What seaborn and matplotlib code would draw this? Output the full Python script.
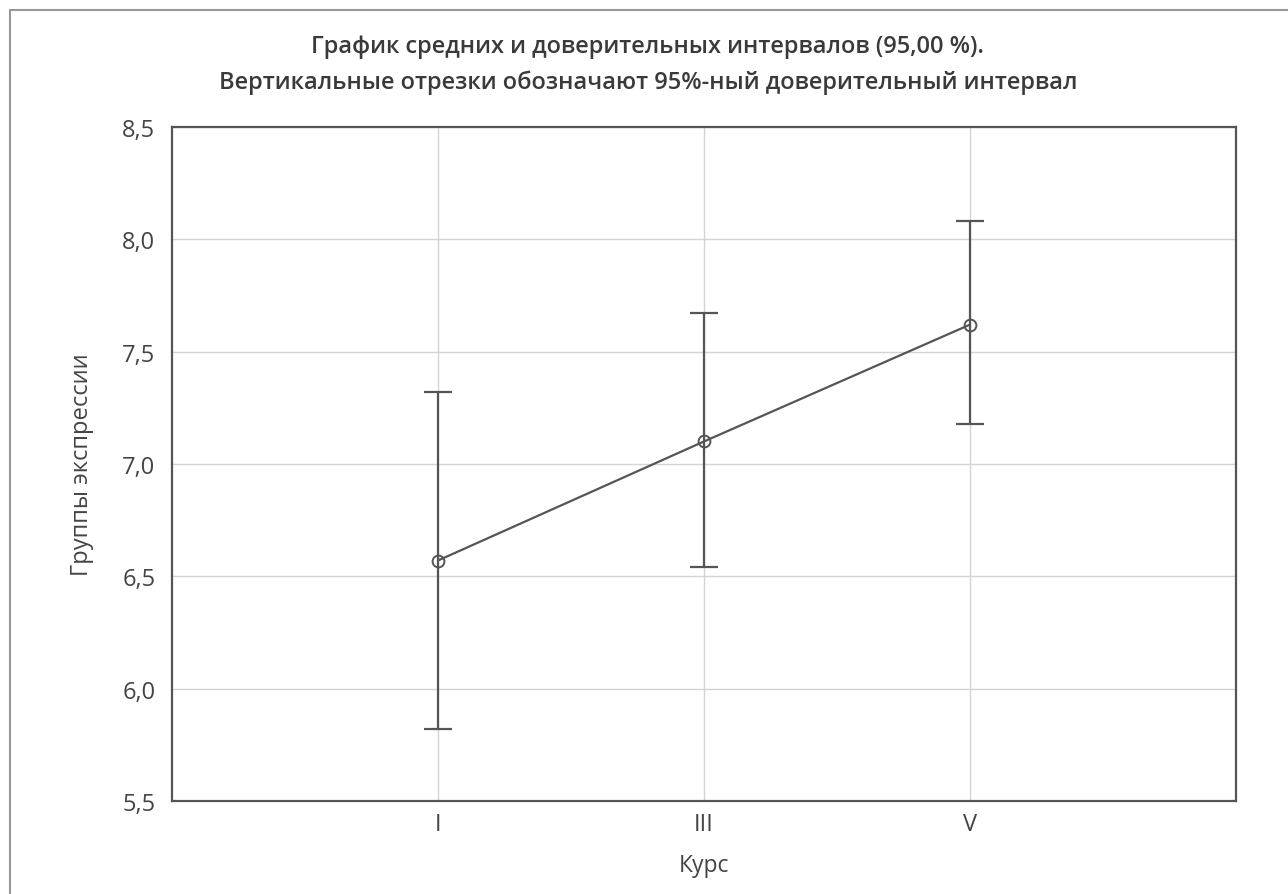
import pandas as pd
import seaborn as sns
import matplotlib.pyplot as plt
from matplotlib.lines import Line2D

# values
courses = ['I', 'III', 'V']
means = [6.57, 7.10, 7.62]
ci_low = [5.82, 6.54, 7.18]
ci_high = [7.32, 7.67, 8.08]
y_ticks = [5.5, 6.0, 6.5, 7.0, 7.5, 8.0, 8.5]

sns.set_theme(style='whitegrid')
plt.rcParams['font.family'] = ['Open Sans', 'DejaVu Sans']

df = pd.DataFrame({'course': courses, 'mean': means, 'low': ci_low, 'high': ci_high})

fig = plt.figure(figsize=(12.88, 8.95), dpi=100)
ax = fig.add_axes([0.1335, 0.104, 0.826, 0.753])

line_col = '#555555'
ax.errorbar(df['course'], df['mean'],
            yerr=[df['mean'] - df['low'], df['high'] - df['mean']],
            fmt='none', ecolor=line_col, elinewidth=1.6, capsize=10, capthick=1.6, zorder=2)
sns.lineplot(data=df, x='course', y='mean', ax=ax, color=line_col, linewidth=1.6,
             marker='o', markersize=8.5, markerfacecolor='none', markeredgecolor=line_col,
             markeredgewidth=1.4, zorder=3)

ax.set_xlim(-1, 3)
ax.set_ylim(5.5, 8.5)
ax.set_yticks(y_ticks)
ax.set_yticklabels([f'{v:.1f}'.replace('.', ',') for v in y_ticks])

ax.grid(True, color='#d4d4d4', linewidth=1.0)
for s in ax.spines.values():
    s.set_color('#555555')
    s.set_linewidth(1.6)
ax.tick_params(axis='both', labelsize=17, colors='#444444', length=4, width=1)
ax.tick_params(axis='x', direction='in', pad=8)
ax.tick_params(axis='y', direction='out', pad=8)

ax.set_xlabel('Курс', fontsize=16.5, color='#444444', labelpad=12)
ax.set_ylabel('Группы экспрессии', fontsize=17, color='#444444', labelpad=20)

fig.text(0.503, 0.947, 'График средних и доверительных интервалов (95,00 %).',
         ha='center', va='center', fontsize=17, fontweight='semibold', color='#3a3a3a')
fig.text(0.503, 0.908, 'Вертикальные отрезки обозначают 95%-ный доверительный интервал',
         ha='center', va='center', fontsize=17, fontweight='semibold', color='#3a3a3a')

# scan frame on left and top
fig.add_artist(Line2D([0.008, 0.008], [0.0, 0.988], color='#999999', linewidth=1.5))
fig.add_artist(Line2D([0.008, 1.0], [0.988, 0.988], color='#999999', linewidth=1.5))

fig.savefig('out.png', dpi=100, facecolor='white')
